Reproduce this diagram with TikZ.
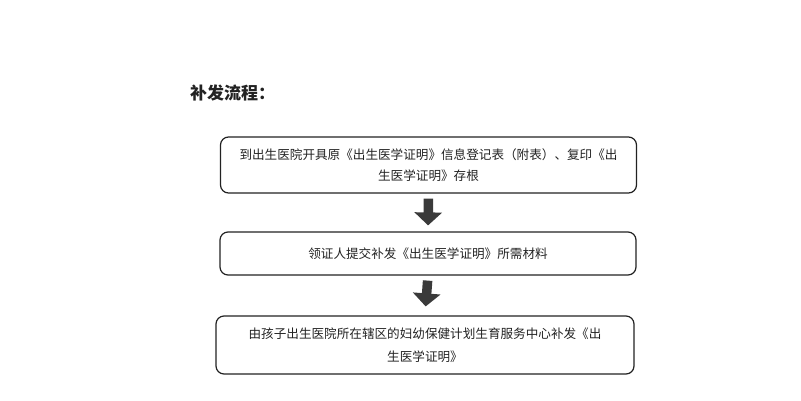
\documentclass[tikz,border=0pt]{standalone}
\usepackage{fontspec}
\usepackage{xcolor}
\usetikzlibrary{arrows.meta}
\newfontfamily\cjk{Noto Sans CJK SC}
\definecolor{ink}{HTML}{222222}
\definecolor{arrowgray}{HTML}{3A3A3A}

\begin{document}
\begin{tikzpicture}[x=1pt, y=-1pt,
    stepbox/.style={draw=ink, line width=1.2pt, rounded corners=8pt, align=center, inner sep=0pt,
        font=\cjk\fontsize{12.6}{21}\selectfont, text=ink},
    blockarrow/.style={draw=arrowgray, line width=9.5pt, -{Triangle[width=27pt,length=13pt]}}]
% parameters (?)
\def\boxwidth{416pt}
\useasboundingbox (0,0) rectangle (801,400);
% title
    \node[anchor=west, inner sep=0pt, font=\cjk\bfseries\fontsize{17}{19}\selectfont, text=ink] (title) at (190,93) {补发流程：};
% the three steps
    \node[stepbox, minimum width=\boxwidth, minimum height=56pt] (s1) at (428.5,165)
        {到出生医院开具原《出生医学证明》信息登记表（附表）、复印《出\\生医学证明》存根};
    \node[stepbox, minimum width=\boxwidth, minimum height=43pt] (s2) at (428,253.5)
        {领证人提交补发《出生医学证明》所需材料};
    \node[stepbox, minimum width=418pt, minimum height=58pt, font=\cjk\fontsize{12.6}{23}\selectfont] (s3) at (425,345)
        {由孩子出生医院所在辖区的妇幼保健计划生育服务中心补发《出\\生医学证明》};
% the arrows between them
    \draw[blockarrow, shorten <=5pt, shorten >=6pt] (s1.south) -- (s2.north);
    \draw[blockarrow, shorten <=5pt, shorten >=9pt] (s2.south) -- (s3.north);
\end{tikzpicture}
\end{document}
